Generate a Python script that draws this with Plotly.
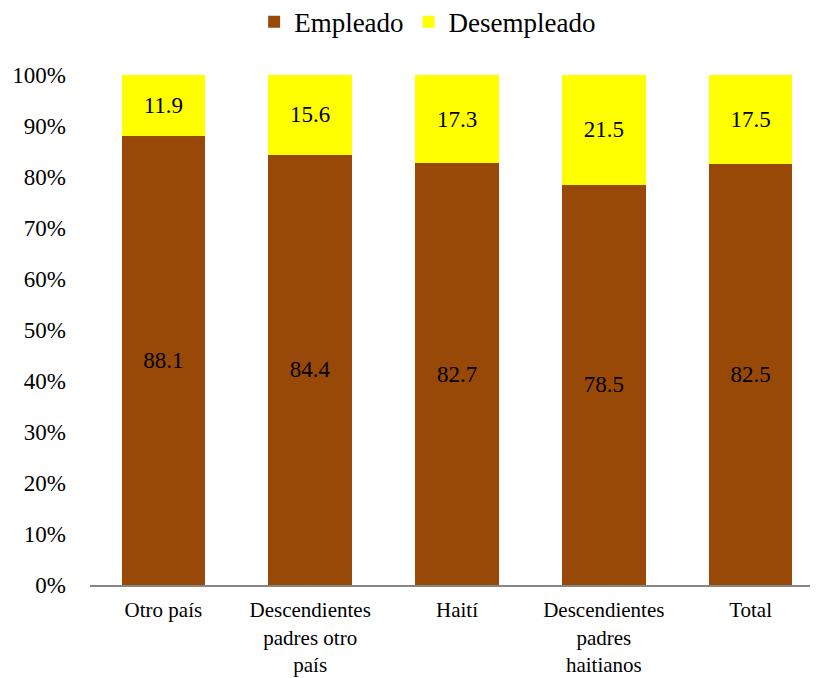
import plotly.graph_objects as go

categorias = ["Otro país", "Descendientes<br>padres otro<br>país", "Haití",
              "Descendientes<br>padres<br>haitianos", "Total"]
empleado = [88.1, 84.4, 82.7, 78.5, 82.5]
desempleado = [11.9, 15.6, 17.3, 21.5, 17.5]

serif = "Liberation Serif"
colores = {"Empleado": "#984807", "Desempleado": "#FFFF00"}

fig = go.Figure()
for nombre, valores in [("Empleado", empleado), ("Desempleado", desempleado)]:
    fig.add_trace(go.Bar(
        x=categorias, y=valores, name=nombre,
        marker_color=colores[nombre], marker_line_width=0,
        text=[f"{v:.1f}" for v in valores],
        textposition="inside", insidetextanchor="middle",
        textfont=dict(color="black", size=23, family=serif),
        showlegend=False,
    ))
    # legend squares
    fig.add_trace(go.Scatter(
        x=[None], y=[None], mode="markers", name=nombre,
        marker=dict(symbol="square", size=12, color=colores[nombre]),
    ))

# page body has an 8px margin, so the figure is drawn 8px right/down
fig.update_layout(
    barmode="stack",
    bargap=0.43,
    width=818, height=678,
    margin=dict(l=82, r=2, t=67, b=101, autoexpand=False),
    plot_bgcolor="white",
    paper_bgcolor="white",
    font=dict(family=serif, size=21, color="black"),
    legend=dict(orientation="h", x=0.46, xanchor="center", y=0.979, yanchor="middle",
                yref="container", font=dict(size=27, family=serif),
                traceorder="normal", itemwidth=30),
)
fig.update_yaxes(range=[0, 100], dtick=10, ticksuffix="%", showgrid=False,
                 zeroline=False, showline=False, ticks="", tickfont=dict(size=23),
                 ticklabelstandoff=23, automargin=False)
fig.update_xaxes(showline=True, linecolor="#868686", linewidth=2, ticks="",
                 tickfont=dict(size=21), ticklabelstandoff=5, automargin=False)

fig.write_html("out.html")
